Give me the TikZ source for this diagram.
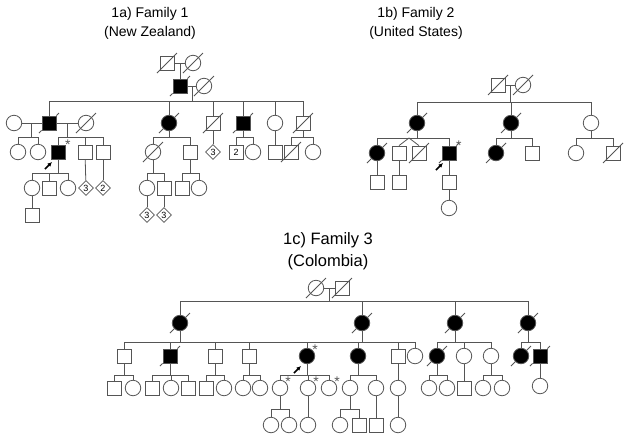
\documentclass[tikz,border=0pt]{standalone}
\usepackage{fontspec}
\setmainfont{Liberation Sans}
\usetikzlibrary{shapes.geometric, arrows.meta, calc}

\definecolor{gray1}{RGB}{85,85,85}
\tikzstyle{line} = [draw=gray1, line width=0.8pt]
\tikzstyle{male} = [draw=gray1, line width=0.8pt, rectangle, minimum size=14pt, inner sep=0pt, font=\fontsize{9}{9}\selectfont]
\tikzstyle{female} = [draw=gray1, line width=0.8pt, circle, minimum size=15.5pt, inner sep=0pt]
\tikzstyle{unk} = [draw=gray1, line width=0.8pt, diamond, minimum size=15pt, inner sep=0pt, font=\fontsize{9}{9}\selectfont]
\tikzstyle{aff} = [fill=black]
\tikzstyle{dead} = [append after command={([shift={(-10pt,-10pt)}]\tikzlastnode.center) edge[line] ([shift={(10pt,10pt)}]\tikzlastnode.center)}]
\tikzstyle{affdead} = [fill=black, append after command={([shift={(-10pt,-10pt)}]\tikzlastnode.center) edge[line] (\tikzlastnode) ([shift={(10pt,10pt)}]\tikzlastnode.center) edge[line] (\tikzlastnode)}]
\tikzstyle{tested} = [label={[inner sep=0pt, xshift=-0.5pt, yshift=-4.7pt, text=gray1, font=\fontsize{14}{14}\selectfont]45:*}]
\tikzstyle{proband} = [append after command={([shift={(-13pt,-17pt)}]\tikzlastnode.center) edge[-{Latex[length=4.5pt,width=4.5pt]}, line width=1.5pt, black] ([shift={(-6pt,-10pt)}]\tikzlastnode.center)}]
\tikzstyle{title} = [align=center, font=\fontsize{14}{19}\selectfont]

% parent, sibship height, children
\newcommand{\kids}[3]{%
  \draw [line] (#1) -- (#1 |- #2);
  \foreach \kid in {#3} {\draw [line] (#1 |- #2) -- (\kid |- #2) -- (\kid);}
}

\begin{document}
\begin{tikzpicture}[x=1pt, y=-1pt]
	\useasboundingbox (0,0) rectangle (629,440);

	\node [title] (t1) at (150,23.5) {1a) Family 1\\(New Zealand)};
	\node [title] (t2) at (416,23.5) {1b) Family 2\\(United States)};
	\node [title, font=\fontsize{16.5}{22}\selectfont] (t3) at (328,251) {1c) Family 3\\(Colombia)};

	% Family 1
	\node [male, dead] (a11) at (167,63) {};
	\node [female, dead] (a12) at (193,63) {};
	\node [male, affdead] (a21) at (180,86) {};
	\node [female, dead] (a22) at (204,86) {};

	\node [female] (a31) at (14,123) {};
	\node [male, affdead] (a32) at (49,123) {};
	\node [female, dead] (a33) at (86,123) {};
	\node [female, affdead] (a34) at (169,123) {};
	\node [male, dead] (a35) at (213,123) {};
	\node [male, affdead] (a36) at (243,123) {};
	\node [female] (a37) at (275,123) {};
	\node [male, dead] (a38) at (303,123) {};

	\node [female] (a41) at (18,152) {};
	\node [female] (a42) at (38,152) {};
	\node [male, aff, tested, proband] (a43) at (58,152) {};
	\node [male] (a44) at (85,152) {};
	\node [male] (a45) at (103,152) {};
	\node [female, dead] (a46) at (153,152) {};
	\node [male] (a47) at (190,152) {};
	\node [unk] (a48) at (213,152) {3};
	\node [male] (a49) at (236,152) {2};
	\node [female] (a410) at (253,152) {};
	\node [male] (a411) at (275,152) {};
	\node [male, dead] (a412) at (291,152) {};
	\node [female] (a413) at (313,152) {};

	\node [female] (a51) at (32,188) {};
	\node [male] (a52) at (49,188) {};
	\node [female] (a53) at (68,188) {};
	\node [unk] (a54) at (86,188) {3};
	\node [unk] (a55) at (103,188) {2};
	\node [female] (a56) at (147,188) {};
	\node [male] (a57) at (164,188) {};
	\node [male] (a58) at (182,188) {};
	\node [female] (a59) at (199,188) {};

	\node [male] (a61) at (32,215) {};
	\node [unk] (a62) at (147,215) {3};
	\node [unk] (a63) at (164,215) {3};

	\coordinate (a2y) at (0,101);
	\coordinate (a3y) at (0,137);
	\coordinate (a4y) at (0,173);
	\coordinate (am1) at ($(a11)!0.5!(a12)$);
	\coordinate (am2) at ($(a21)!0.5!(a22)$);
	\coordinate (am3) at ($(a31)!0.5!(a32)$);
	\coordinate (am4) at ($(a32)!0.5!(a33)$);

	\draw [line] (a11) -- (a12);
	\draw [line] (am1) -- (a21);
	\draw [line] (a21) -- (a22);
	\kids{am2}{a2y}{a32,a34,a35,a36,a37,a38}
	\draw [line] (a31) -- (a32);
	\draw [line] (a32) -- (a33);
	\kids{am3}{a3y}{a41,a42}
	\kids{am4}{a3y}{a43,a44,a45}
	\kids{a34}{a3y}{a46,a47}
	\draw [line] (a35) -- (a48);
	\kids{a36}{a3y}{a49,a410}
	\draw [line] (a37) -- (a411);
	\kids{a38}{a3y}{a412,a413}
	\kids{a43}{a4y}{a51,a52,a53}
	\draw [line] (a44) -- (a54);
	\draw [line] (a45) -- (a55);
	\kids{a46}{a4y}{a56,a57}
	\kids{a47}{a4y}{a58,a59}
	\draw [line] (a51) -- (a61);
	\draw [line] (a56) -- (a62);
	\draw [line] (a57) -- (a63);

	% Family 2
	\node [male, dead] (b11) at (498,85) {};
	\node [female, dead] (b12) at (523,85) {};
	\node [female, affdead] (b21) at (417,123) {};
	\node [female, affdead] (b22) at (511,123) {};
	\node [female] (b23) at (591,123) {};

	\node [female, affdead] (b31) at (377,153) {};
	\node [male] (b32) at (399,153) {};
	\node [male, dead] (b33) at (419,153) {};
	\node [male, affdead, tested, proband] (b34) at (449,153) {};
	\node [female, affdead] (b35) at (496,153) {};
	\node [male] (b36) at (532,153) {};
	\node [female] (b37) at (576,153) {};
	\node [male, dead] (b38) at (613,153) {};

	\node [male] (b41) at (377,182) {};
	\node [male] (b42) at (399,182) {};
	\node [male] (b43) at (449,182) {};
	\node [female] (b51) at (449,208) {};

	\coordinate (b1y) at (0,102);
	\coordinate (b2y) at (0,138);
	\coordinate (bm1) at ($(b11)!0.5!(b12)$);
	\coordinate (tw) at (409,138);

	\draw [line] (b11) -- (b12);
	\kids{bm1}{b1y}{b21,b22,b23}
	\kids{b21}{b2y}{b31,b34}
	\draw [line] (b32.north) -- (tw) -- (b33.north);
	\kids{b22}{b2y}{b35,b36}
	\kids{b23}{b2y}{b37,b38}
	\draw [line] (b31) -- (b41);
	\draw [line] (b32) -- (b42);
	\draw [line] (b34) -- (b43);
	\draw [line] (b43) -- (b51);

	% Family 3
	\node [female, dead] (c11) at (316,288) {};
	\node [male, dead] (c12) at (342,288) {};
	\node [female, affdead] (c21) at (180,323) {};
	\node [female, affdead] (c22) at (362,323) {};
	\node [female, affdead] (c23) at (455,323) {};
	\node [female, affdead] (c24) at (528,323) {};

	\node [male] (c31) at (124,356) {};
	\node [male, affdead] (c32) at (170,356) {};
	\node [male] (c33) at (215,356) {};
	\node [male] (c34) at (249,356) {};
	\node [female, aff, tested, proband] (c35) at (307,356) {};
	\node [female, aff] (c36) at (358,356) {};
	\node [male] (c37) at (398,356) {};
	\node [female] (c38) at (415,356) {};
	\node [female, affdead] (c39) at (437,356) {};
	\node [female] (c310) at (464,356) {};
	\node [female] (c311) at (491,356) {};
	\node [female, affdead] (c312) at (521,356) {};
	\node [male, affdead] (c313) at (540,356) {};

	\node [male] (c41) at (114,388) {};
	\node [female] (c42) at (133,388) {};
	\node [male] (c43) at (152,388) {};
	\node [female] (c44) at (171,388) {};
	\node [male] (c45) at (188,388) {};
	\node [male] (c46) at (206,388) {};
	\node [female] (c47) at (224,388) {};
	\node [female] (c48) at (243,388) {};
	\node [female] (c49) at (260,388) {};
	\node [female, tested] (c410) at (280,388) {};
	\node [female, tested] (c411) at (308,388) {};
	\node [female, tested] (c412) at (329,388) {};
	\node [female] (c413) at (350,388) {};
	\node [female] (c414) at (376,388) {};
	\node [female] (c415) at (398,388) {};
	\node [female] (c416) at (429,388) {};
	\node [female] (c417) at (447,388) {};
	\node [male] (c418) at (464,388) {};
	\node [female] (c419) at (483,388) {};
	\node [female] (c420) at (502,388) {};
	\node [female] (c421) at (540,386) {};

	\node [female] (c51) at (271,425) {};
	\node [female] (c52) at (289,425) {};
	\node [female] (c53) at (308,425) {};
	\node [female] (c54) at (340,425) {};
	\node [male] (c55) at (359,425) {};
	\node [male] (c56) at (376,425) {};
	\node [female] (c57) at (398,425) {};

	\coordinate (c1y) at (0,301);
	\coordinate (c2y) at (0,342);
	\coordinate (c3y) at (0,375);
	\coordinate (c4y) at (0,409);
	\coordinate (cm1) at ($(c11)!0.5!(c12)$);

	\draw [line] (c11) -- (c12);
	\kids{cm1}{c1y}{c21,c22,c23,c24}
	\kids{c21}{c2y}{c31,c32,c33,c34,c35,c36,c37,c38}
	\draw [line] (c22) -- (c22 |- c2y);
	\kids{c23}{c2y}{c39,c310,c311}
	\kids{c24}{c2y}{c312,c313}
	\kids{c31}{c3y}{c41,c42}
	\kids{c32}{c3y}{c43,c44,c45}
	\kids{c33}{c3y}{c46,c47}
	\kids{c34}{c3y}{c48,c49}
	\kids{c35}{c3y}{c410,c411,c412}
	\kids{c36}{c3y}{c413,c414}
	\draw [line] (c37) -- (c415);
	\kids{c39}{c3y}{c416,c417}
	\draw [line] (c310) -- (c418);
	\kids{c311}{c3y}{c419,c420}
	\draw [line] (c313) -- (c421);
	\kids{c410}{c4y}{c51,c52}
	\draw [line] (c411) -- (c53);
	\kids{c413}{c4y}{c54,c55}
	\draw [line] (c414) -- (c56);
	\draw [line] (c415) -- (c57);
\end{tikzpicture}
\end{document}
